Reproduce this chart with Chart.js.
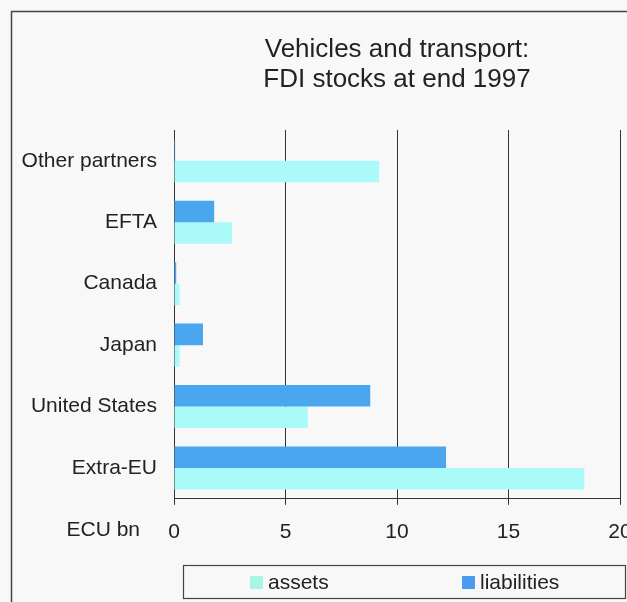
<!DOCTYPE html>
<html>
<head>
<meta charset="utf-8">
<script src="https://cdn.jsdelivr.net/npm/chart.js@4.4.1/dist/chart.umd.min.js"></script>
<style>
  html, body { margin: 0; padding: 0; background: #f8f8f8; }
  #wrap { width: 627px; height: 602px; }
</style>
</head>
<body>
<div id="wrap"><canvas id="chart" width="627" height="602"></canvas></div>
<script>
// ---- data (ECU bn, end 1997) ----
const categories = ['Other partners', 'EFTA', 'Canada', 'Japan', 'United States', 'Extra-EU'];
const liabilities = [0.05, 1.8, 0.1, 1.3, 8.8, 12.2];
const assets = [9.2, 2.6, 0.25, 0.25, 6.0, 18.4];
const xTicks = [0, 5, 10, 15, 20];
const titleLines = ['Vehicles and transport:', 'FDI stocks at end 1997'];
const unitLabel = 'ECU bn';

const FONT = '"Liberation Sans", Arial, sans-serif';
const INK = '#222';
const LINE = '#333';
const TICK_LEN = 6;
const TICK_PAD = 15;

Chart.defaults.font.family = FONT;
Chart.defaults.color = INK;

// frame, unit label and the boxed legend of the original print
const decor = {
    id: 'decor',
    beforeDraw(chart) {
        const ctx = chart.ctx;
        ctx.save();
        ctx.fillStyle = '#f8f8f8';
        ctx.fillRect(0, 0, chart.width, chart.height);
        ctx.strokeStyle = '#444';
        ctx.lineWidth = 1.5;
        ctx.strokeRect(11.5, 11.5, chart.width + 20, chart.height + 20);
        ctx.restore();
    },
    afterDraw(chart) {
        const ctx = chart.ctx;
        const x = chart.scales.x;
        ctx.save();
        ctx.font = '21px ' + FONT;
        ctx.fillStyle = INK;
        ctx.textAlign = 'right';
        ctx.textBaseline = 'top';
        ctx.fillText(unitLabel, 140, x.top + TICK_LEN + TICK_PAD);

        // legend box
        ctx.strokeStyle = '#444';
        ctx.lineWidth = 1.2;
        ctx.strokeRect(183.5, 565.5, 442, 33);
        const items = chart.data.datasets.slice().reverse();
        const starts = [250, 462];
        const cy = 582;
        ctx.textAlign = 'left';
        ctx.textBaseline = 'middle';
        items.forEach((ds, i) => {
            ctx.fillStyle = ds.legendColor || ds.backgroundColor;
            ctx.fillRect(starts[i], cy - 6, 13, 13);
            ctx.fillStyle = INK;
            ctx.fillText(ds.label, starts[i] + 18, cy + 1);
        });
        ctx.restore();
    }
};

new Chart(document.getElementById('chart'), {
    type: 'bar',
    data: {
        labels: categories,
        datasets: [
            { label: 'liabilities', data: liabilities, backgroundColor: '#4aa6ee', legendColor: '#4a9cf0',
              categoryPercentage: 0.7, barPercentage: 1.0 },
            { label: 'assets', data: assets, backgroundColor: '#abfafa', legendColor: '#a9f5e3',
              categoryPercentage: 0.7, barPercentage: 1.0 }
        ]
    },
    options: {
        indexAxis: 'y',
        responsive: false,
        animation: false,
        layout: { padding: { top: 0, left: 0, right: 7, bottom: 42 } },
        scales: {
            x: {
                min: xTicks[0],
                max: xTicks[xTicks.length - 1],
                ticks: { stepSize: xTicks[1] - xTicks[0], color: INK, font: { size: 21 }, padding: TICK_PAD },
                grid: { color: LINE, lineWidth: 1, drawTicks: true, tickLength: TICK_LEN, tickColor: LINE },
                border: { display: true, color: LINE, width: 1 },
                afterFit(scale) { scale.paddingLeft = 0; scale.paddingRight = 0; }
            },
            y: {
                ticks: { color: INK, font: { size: 21 }, padding: 17 },
                grid: { display: false, drawTicks: false },
                border: { display: true, color: LINE, width: 1 },
                afterFit(scale) { scale.width = 174; }
            }
        },
        plugins: {
            legend: { display: false },
            tooltip: { enabled: false },
            title: {
                display: true,
                fullSize: false,
                text: titleLines,
                color: INK,
                font: { size: 26, weight: 'normal', lineHeight: 30 / 26 },
                padding: { top: 35, bottom: 35 }
            }
        }
    },
    plugins: [decor]
});
</script>
</body>
</html>
